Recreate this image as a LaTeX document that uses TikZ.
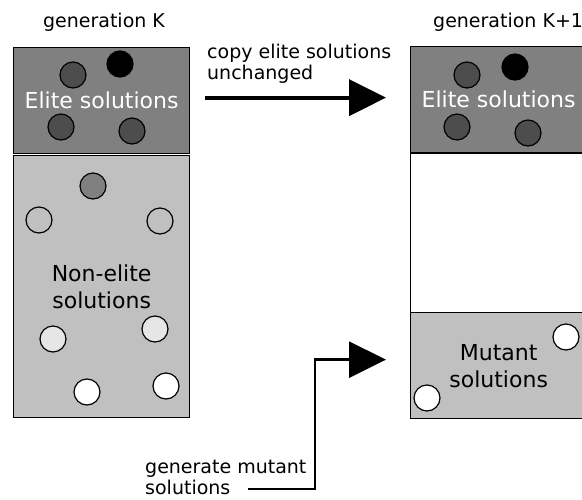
\documentclass[tikz,border=0pt]{standalone}
\usepackage{fontspec}
\setmainfont{DejaVu Sans}
\usetikzlibrary{arrows.meta, positioning}

\definecolor{elitegray}{HTML}{808080}
\definecolor{darkdot}{HTML}{4D4D4D}
\definecolor{restgray}{HTML}{C0C0C0}
\definecolor{lightdot}{HTML}{E6E6E6}

\tikzset{
    pool/.style={draw, line width=1.3pt, minimum width=176pt, inner sep=0pt,
        align=center, font=\fontsize{22}{27}\selectfont},
    sol/.style={circle, draw, line width=1.2pt, minimum size=26pt, inner sep=0pt},
    caption/.style={font=\fontsize{19}{21}\selectfont, align=left, inner sep=0pt},
    bigarrow/.style={line width=#1, -{Triangle[length=37pt, width=36pt]}},
}

\begin{document}
\begin{tikzpicture}[x=1pt, y=-1pt]
    \clip (0,0) rectangle (582,499);

    % generation K
    \node[pool, fill=elitegray, text=white, minimum height=106pt, anchor=north west]
        (eliteL) at (13,47) {Elite solutions};
    \node[pool, fill=restgray, minimum height=262pt, anchor=north west]
        (restL) at (13,155) {Non-elite\\solutions};
    \node[caption, anchor=base] (genK) at (104,27) {generation K};

    % generation K+1
    \node[pool, fill=elitegray, text=white, minimum height=106pt, anchor=north west]
        (eliteR) at (410,46) {Elite solutions};
    \node[pool, fill=white, minimum height=159pt, anchor=north west]
        (emptyR) at (410,153) {};
    \node[pool, fill=restgray, minimum height=106pt, anchor=north west]
        (mutant) at (410,312) {Mutant\\solutions};
    \node[caption, anchor=base west] (genK1) at (433,27) {generation K+1};

    % solutions as dots
    \foreach \x/\y/\c [count=\i] in {
        73/75/darkdot, 120/64/black, 61/127/darkdot, 132/131/darkdot,
        467/75/darkdot, 515/67/black, 457/127/darkdot, 528/133/darkdot,
        93/186/elitegray, 39/220/restgray, 160/221/restgray,
        53/339/lightdot, 155/329/lightdot, 87/392/white, 166/386/white,
        566/337/white, 427/398/white}
        \node[sol, fill=\c] (s\i) at (\x,\y) {};

    % copy step
    \node[caption, anchor=base west] (copytxt) at (207,79) {copy elite solutions\\unchanged};
    \coordinate (copystart) at ([xshift=15pt, yshift=3pt]eliteL.east);
    \draw[bigarrow=4pt, shorten >=24pt]
        (copystart) -- (copystart -| eliteR.west);

    % mutation step
    \node[caption, anchor=base west] (gentxt) at (145,494) {generate mutant\\solutions};
    \coordinate (genstart) at (248,489);
    \draw[bigarrow=2.7pt, shorten >=24pt]
        (genstart) -| ([xshift=-95pt, yshift=6pt]mutant.west)
        -- ([yshift=6pt]mutant.west);

\end{tikzpicture}
\end{document}
